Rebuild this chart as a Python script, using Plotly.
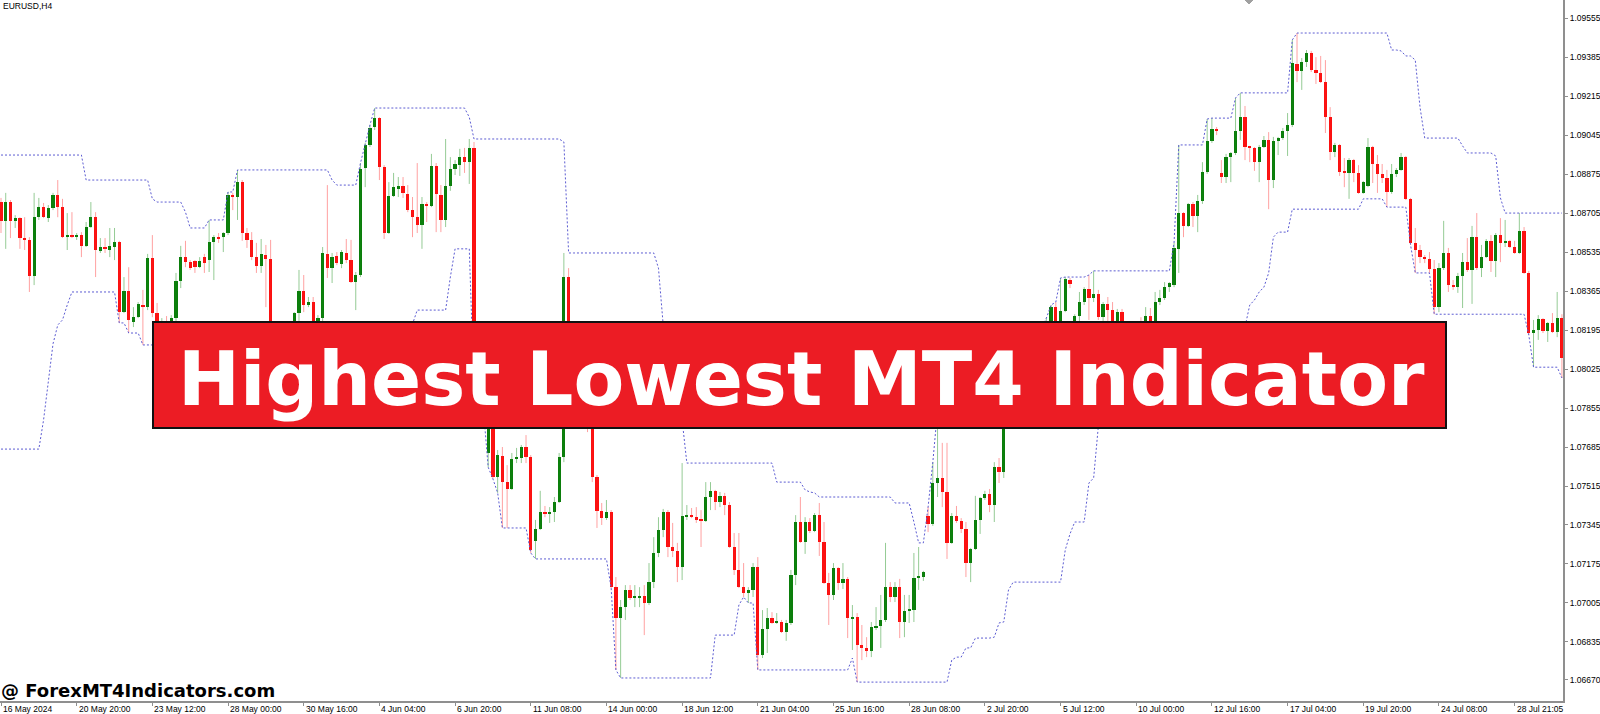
import plotly.graph_objects as go

# ---------------- data (EURUSD H4) ----------------
open_ = [
 1.08753, 1.08671, 1.08753, 1.08671, 1.08683, 1.08596, 1.08588, 1.08431, 1.08687, 1.08731,
 1.08683, 1.08727, 1.08784, 1.08731, 1.08600, 1.08609, 1.08600, 1.08609, 1.08562, 1.08644,
 1.08687, 1.08540, 1.08557, 1.08544, 1.08557, 1.08579, 1.08273, 1.08366, 1.08230, 1.08251,
 1.08304, 1.08295, 1.08509, 1.08269, 1.08204, 1.08230, 1.08213, 1.08247, 1.08409, 1.08513,
 1.08491, 1.08496, 1.08469, 1.08513, 1.08500, 1.08579, 1.08600, 1.08600, 1.08618, 1.08784,
 1.08775, 1.08840, 1.08618, 1.08588, 1.08513, 1.08474, 1.08522, 1.08505, 1.08130, 1.08021,
 1.08086, 1.08055, 1.08152, 1.08269, 1.08366, 1.08304, 1.08317, 1.08195, 1.08247, 1.08527,
 1.08465, 1.08518, 1.08483, 1.08531, 1.08500, 1.08404, 1.08435, 1.08901, 1.09002, 1.09080,
 1.09119, 1.08905, 1.08618, 1.08780, 1.08810, 1.08823, 1.08789, 1.08718, 1.08687, 1.08653,
 1.08745, 1.08736, 1.08910, 1.08784, 1.08675, 1.08823, 1.08897, 1.08914, 1.08949, 1.08927,
 1.08989, 1.08029, 1.07986, 1.07659, 1.07803, 1.07554, 1.07646, 1.07532, 1.07502, 1.07633,
 1.07637, 1.07685, 1.07641, 1.07276, 1.07328, 1.07401, 1.07393, 1.07401, 1.07445, 1.07641,
 1.08426, 1.08195, 1.08042, 1.08086, 1.07912, 1.07781, 1.07554, 1.07406, 1.07375, 1.07401,
 1.07074, 1.06939, 1.06987, 1.07062, 1.07027, 1.07027, 1.07036, 1.07005, 1.07096, 1.07223,
 1.07323, 1.07401, 1.07249, 1.07232, 1.07161, 1.07384, 1.07388, 1.07379, 1.07371, 1.07363,
 1.07467, 1.07494, 1.07445, 1.07472, 1.07432, 1.07249, 1.07149, 1.07074, 1.07049, 1.07062,
 1.07161, 1.06778, 1.06892, 1.06939, 1.06918, 1.06922, 1.06878, 1.06918, 1.07127, 1.07358,
 1.07271, 1.07358, 1.07319, 1.07388, 1.07271, 1.07092, 1.07040, 1.07157, 1.07092, 1.07110,
 1.06939, 1.06943, 1.06822, 1.06809, 1.06796, 1.06900, 1.06905, 1.06931, 1.07074, 1.07031,
 1.07074, 1.06922, 1.06970, 1.06974, 1.07114, 1.07118, 1.07384, 1.07350, 1.07528, 1.07550,
 1.07489, 1.07267, 1.07384, 1.07363, 1.07328, 1.07179, 1.07240, 1.07367, 1.07463, 1.07481,
 1.07432, 1.07597, 1.07576, 1.07803, 1.07912, 1.07868, 1.07977, 1.08042, 1.07986, 1.08108,
 1.08152, 1.08099, 1.08230, 1.08295, 1.08230, 1.08278, 1.08413, 1.08173, 1.08256, 1.08317,
 1.08374, 1.08335, 1.08353, 1.08251, 1.08309, 1.08282, 1.08195, 1.08273, 1.08152, 1.08099,
 1.08152, 1.08195, 1.08169, 1.08256, 1.08222, 1.08317, 1.08335, 1.08382, 1.08391, 1.08549,
 1.08705, 1.08649, 1.08745, 1.08692, 1.08758, 1.08884, 1.09020, 1.09072, 1.08880, 1.08862,
 1.08949, 1.08967, 1.09063, 1.09123, 1.08993, 1.08989, 1.08927, 1.08993, 1.09024, 1.08849,
 1.09020, 1.09032, 1.09063, 1.09089, 1.09355, 1.09325, 1.09363, 1.09403, 1.09329, 1.09316,
 1.09276, 1.09123, 1.08971, 1.09002, 1.08884, 1.08880, 1.08936, 1.08880, 1.08793, 1.08823,
 1.08993, 1.08919, 1.08876, 1.08858, 1.08797, 1.08876, 1.08893, 1.08949, 1.08767, 1.08575,
 1.08544, 1.08513, 1.08505, 1.08461, 1.08295, 1.08465, 1.08531, 1.08391, 1.08382, 1.08431,
 1.08491, 1.08457, 1.08600, 1.08465, 1.08513, 1.08584, 1.08496, 1.08609, 1.08575, 1.08584,
 1.08557, 1.08531, 1.08627, 1.08444, 1.08182, 1.08195, 1.08243, 1.08191, 1.08226, 1.08186,
 1.08247,
]

high = [
 1.08771, 1.08793, 1.08762, 1.08696, 1.08687, 1.08687, 1.08600, 1.08793, 1.08771, 1.08749,
 1.08740, 1.08793, 1.08849, 1.08767, 1.08705, 1.08709, 1.08618, 1.08622, 1.08666, 1.08753,
 1.08709, 1.08596, 1.08596, 1.08640, 1.08640, 1.08584, 1.08426, 1.08469, 1.08295, 1.08317,
 1.08370, 1.08527, 1.08609, 1.08313, 1.08247, 1.08256, 1.08260, 1.08444, 1.08562, 1.08584,
 1.08500, 1.08500, 1.08513, 1.08527, 1.08675, 1.08609, 1.08618, 1.08622, 1.08797, 1.08793,
 1.08893, 1.08849, 1.08640, 1.08622, 1.08575, 1.08592, 1.08566, 1.08588, 1.08152, 1.08117,
 1.08130, 1.08173, 1.08273, 1.08457, 1.08435, 1.08339, 1.08339, 1.08260, 1.08557, 1.08827,
 1.08531, 1.08535, 1.08544, 1.08592, 1.08588, 1.08448, 1.08923, 1.09011, 1.09089, 1.09163,
 1.09123, 1.08914, 1.08840, 1.08880, 1.08862, 1.08862, 1.08827, 1.08775, 1.08923, 1.08775,
 1.08753, 1.08963, 1.08923, 1.08827, 1.09028, 1.08949, 1.08936, 1.08985, 1.08989, 1.09028,
 1.09015, 1.08064, 1.08042, 1.07824, 1.07824, 1.07672, 1.07685, 1.07606, 1.07659, 1.07681,
 1.07694, 1.07737, 1.07650, 1.07367, 1.07494, 1.07428, 1.07423, 1.07467, 1.07659, 1.08531,
 1.08465, 1.08217, 1.08108, 1.08099, 1.07934, 1.07803, 1.07563, 1.07441, 1.07454, 1.07410,
 1.07118, 1.07018, 1.07083, 1.07083, 1.07083, 1.07074, 1.07083, 1.07179, 1.07292, 1.07379,
 1.07415, 1.07410, 1.07354, 1.07267, 1.07615, 1.07432, 1.07419, 1.07423, 1.07410, 1.07532,
 1.07532, 1.07498, 1.07489, 1.07485, 1.07445, 1.07310, 1.07310, 1.07179, 1.07074, 1.07179,
 1.07205, 1.06974, 1.06983, 1.06965, 1.06961, 1.06931, 1.06931, 1.07149, 1.07388, 1.07467,
 1.07379, 1.07375, 1.07397, 1.07441, 1.07358, 1.07136, 1.07179, 1.07161, 1.07179, 1.07118,
 1.06996, 1.06961, 1.06909, 1.06856, 1.06922, 1.06987, 1.07040, 1.07267, 1.07096, 1.07096,
 1.07110, 1.07040, 1.07040, 1.07223, 1.07249, 1.07145, 1.07423, 1.07619, 1.07846, 1.07703,
 1.07703, 1.07397, 1.07428, 1.07375, 1.07358, 1.07245, 1.07472, 1.07467, 1.07494, 1.07502,
 1.07619, 1.07637, 1.07846, 1.07955, 1.07955, 1.08012, 1.08086, 1.08073, 1.08130, 1.08186,
 1.08204, 1.08247, 1.08304, 1.08317, 1.08422, 1.08426, 1.08422, 1.08264, 1.08361, 1.08382,
 1.08435, 1.08453, 1.08370, 1.08317, 1.08339, 1.08317, 1.08287, 1.08287, 1.08195, 1.08186,
 1.08217, 1.08251, 1.08295, 1.08291, 1.08361, 1.08370, 1.08404, 1.08404, 1.08575, 1.09002,
 1.08709, 1.08749, 1.08753, 1.08784, 1.08927, 1.09115, 1.09119, 1.09080, 1.08936, 1.08963,
 1.08971, 1.09207, 1.09229, 1.09172, 1.08998, 1.08993, 1.09002, 1.09041, 1.09058, 1.09037,
 1.09037, 1.09076, 1.09141, 1.09460, 1.09490, 1.09381, 1.09416, 1.09412, 1.09385, 1.09390,
 1.09372, 1.09167, 1.09011, 1.09006, 1.08945, 1.08945, 1.08941, 1.08914, 1.08845, 1.09032,
 1.08998, 1.08958, 1.08919, 1.08893, 1.08919, 1.08901, 1.08967, 1.08954, 1.08771, 1.08640,
 1.08566, 1.08522, 1.08535, 1.08500, 1.08487, 1.08671, 1.08553, 1.08413, 1.08444, 1.08531,
 1.08596, 1.08649, 1.08705, 1.08566, 1.08592, 1.08609, 1.08618, 1.08683, 1.08675, 1.08588,
 1.08584, 1.08705, 1.08644, 1.08453, 1.08239, 1.08260, 1.08247, 1.08230, 1.08269, 1.08361,
 1.08264,
]

low = [
 1.08618, 1.08549, 1.08596, 1.08640, 1.08549, 1.08544, 1.08361, 1.08391, 1.08675, 1.08683,
 1.08666, 1.08718, 1.08687, 1.08596, 1.08544, 1.08596, 1.08588, 1.08513, 1.08557, 1.08640,
 1.08426, 1.08531, 1.08531, 1.08513, 1.08500, 1.08226, 1.08269, 1.08182, 1.08208, 1.08247,
 1.08130, 1.08282, 1.08251, 1.08173, 1.08152, 1.08182, 1.08195, 1.08226, 1.08378, 1.08469,
 1.08457, 1.08444, 1.08465, 1.08444, 1.08448, 1.08413, 1.08575, 1.08535, 1.08609, 1.08718,
 1.08675, 1.08584, 1.08553, 1.08500, 1.08444, 1.08444, 1.08295, 1.08086, 1.07977, 1.07955,
 1.08012, 1.08029, 1.08130, 1.08226, 1.08273, 1.08295, 1.08152, 1.08160, 1.08217, 1.08422,
 1.08400, 1.08478, 1.08465, 1.08487, 1.08400, 1.08282, 1.08426, 1.08818, 1.08993, 1.09067,
 1.08849, 1.08592, 1.08614, 1.08775, 1.08775, 1.08771, 1.08709, 1.08600, 1.08618, 1.08549,
 1.08666, 1.08731, 1.08622, 1.08622, 1.08644, 1.08802, 1.08871, 1.08867, 1.08880, 1.08832,
 1.07934, 1.07846, 1.07890, 1.07597, 1.07546, 1.07485, 1.07332, 1.07332, 1.07498, 1.07615,
 1.07615, 1.07615, 1.07223, 1.07197, 1.07323, 1.07379, 1.07354, 1.07358, 1.07441, 1.07619,
 1.08152, 1.08012, 1.07986, 1.07890, 1.07750, 1.07532, 1.07332, 1.07345, 1.07367, 1.07070,
 1.06713, 1.06678, 1.06931, 1.07018, 1.06987, 1.06987, 1.06865, 1.06996, 1.07070, 1.07205,
 1.07292, 1.07205, 1.07205, 1.07096, 1.07105, 1.07367, 1.07375, 1.07354, 1.07249, 1.07358,
 1.07410, 1.07410, 1.07423, 1.07388, 1.07245, 1.07127, 1.07070, 1.07031, 1.07005, 1.07031,
 1.06713, 1.06765, 1.06787, 1.06914, 1.06914, 1.06874, 1.06840, 1.06909, 1.07083, 1.07267,
 1.07219, 1.07310, 1.07314, 1.07210, 1.07088, 1.06909, 1.07018, 1.07062, 1.07066, 1.06852,
 1.06800, 1.06660, 1.06756, 1.06769, 1.06769, 1.06887, 1.06809, 1.06922, 1.07009, 1.07009,
 1.06852, 1.06856, 1.06918, 1.06922, 1.07062, 1.07101, 1.07314, 1.07341, 1.07467, 1.07423,
 1.07197, 1.07263, 1.07354, 1.07310, 1.07118, 1.07096, 1.07236, 1.07306, 1.07454, 1.07401,
 1.07358, 1.07528, 1.07550, 1.07777, 1.07824, 1.07837, 1.07934, 1.07942, 1.07968, 1.08073,
 1.08064, 1.08082, 1.08204, 1.08195, 1.08213, 1.08273, 1.08378, 1.08130, 1.08217, 1.08304,
 1.08239, 1.08317, 1.08239, 1.08213, 1.08204, 1.08152, 1.08160, 1.08117, 1.08055, 1.08064,
 1.08117, 1.08143, 1.08152, 1.08130, 1.08208, 1.08304, 1.08326, 1.08361, 1.08382, 1.08444,
 1.08600, 1.08644, 1.08644, 1.08622, 1.08745, 1.08876, 1.09011, 1.09045, 1.08836, 1.08836,
 1.08840, 1.08958, 1.09024, 1.08936, 1.08927, 1.08889, 1.08840, 1.08989, 1.08722, 1.08814,
 1.08958, 1.09024, 1.08954, 1.09080, 1.09276, 1.09242, 1.09342, 1.09320, 1.09268, 1.09272,
 1.09054, 1.08936, 1.08949, 1.08867, 1.08818, 1.08767, 1.08840, 1.08789, 1.08789, 1.08818,
 1.08836, 1.08793, 1.08836, 1.08731, 1.08789, 1.08862, 1.08889, 1.08762, 1.08566, 1.08444,
 1.08487, 1.08487, 1.08444, 1.08264, 1.08273, 1.08457, 1.08361, 1.08370, 1.08357, 1.08291,
 1.08448, 1.08309, 1.08457, 1.08426, 1.08509, 1.08448, 1.08426, 1.08491, 1.08557, 1.08553,
 1.08527, 1.08527, 1.08440, 1.08173, 1.08033, 1.08152, 1.08182, 1.08143, 1.08182, 1.08164,
 1.07986,
]

close = [
 1.08671, 1.08753, 1.08671, 1.08683, 1.08596, 1.08588, 1.08431, 1.08687, 1.08731, 1.08687,
 1.08727, 1.08784, 1.08731, 1.08600, 1.08609, 1.08600, 1.08609, 1.08562, 1.08644, 1.08687,
 1.08544, 1.08557, 1.08549, 1.08562, 1.08579, 1.08273, 1.08366, 1.08239, 1.08251, 1.08309,
 1.08295, 1.08509, 1.08269, 1.08204, 1.08230, 1.08213, 1.08247, 1.08409, 1.08513, 1.08491,
 1.08465, 1.08469, 1.08496, 1.08487, 1.08579, 1.08600, 1.08596, 1.08618, 1.08784, 1.08775,
 1.08840, 1.08618, 1.08588, 1.08513, 1.08474, 1.08527, 1.08505, 1.08130, 1.08021, 1.08086,
 1.08055, 1.08152, 1.08269, 1.08366, 1.08304, 1.08317, 1.08195, 1.08247, 1.08531, 1.08465,
 1.08513, 1.08487, 1.08535, 1.08500, 1.08404, 1.08435, 1.08897, 1.09002, 1.09076, 1.09119,
 1.08905, 1.08618, 1.08780, 1.08818, 1.08823, 1.08793, 1.08718, 1.08687, 1.08653, 1.08745,
 1.08736, 1.08910, 1.08789, 1.08675, 1.08823, 1.08897, 1.08919, 1.08949, 1.08927, 1.08989,
 1.08029, 1.07986, 1.08012, 1.07803, 1.07554, 1.07650, 1.07532, 1.07502, 1.07633, 1.07637,
 1.07685, 1.07641, 1.07236, 1.07328, 1.07401, 1.07393, 1.07401, 1.07445, 1.07641, 1.08426,
 1.08195, 1.08042, 1.08086, 1.07912, 1.07781, 1.07554, 1.07406, 1.07375, 1.07401, 1.07074,
 1.06939, 1.06987, 1.07062, 1.07027, 1.07031, 1.07036, 1.07005, 1.07096, 1.07223, 1.07323,
 1.07401, 1.07249, 1.07232, 1.07161, 1.07384, 1.07388, 1.07379, 1.07371, 1.07363, 1.07467,
 1.07494, 1.07445, 1.07472, 1.07432, 1.07249, 1.07149, 1.07074, 1.07049, 1.07062, 1.07161,
 1.06778, 1.06892, 1.06939, 1.06918, 1.06922, 1.06878, 1.06918, 1.07127, 1.07358, 1.07271,
 1.07358, 1.07319, 1.07388, 1.07271, 1.07092, 1.07040, 1.07157, 1.07092, 1.07110, 1.06939,
 1.06943, 1.06822, 1.06809, 1.06796, 1.06900, 1.06905, 1.06931, 1.07074, 1.07031, 1.07074,
 1.06922, 1.06970, 1.06974, 1.07114, 1.07118, 1.07140, 1.07350, 1.07528, 1.07550, 1.07489,
 1.07267, 1.07384, 1.07363, 1.07328, 1.07179, 1.07240, 1.07367, 1.07463, 1.07481, 1.07432,
 1.07597, 1.07576, 1.07803, 1.07912, 1.07868, 1.07977, 1.08042, 1.07986, 1.08108, 1.08152,
 1.08099, 1.08230, 1.08295, 1.08230, 1.08278, 1.08418, 1.08396, 1.08256, 1.08317, 1.08374,
 1.08335, 1.08353, 1.08251, 1.08309, 1.08282, 1.08195, 1.08273, 1.08152, 1.08099, 1.08152,
 1.08195, 1.08169, 1.08256, 1.08222, 1.08317, 1.08335, 1.08382, 1.08400, 1.08553, 1.08705,
 1.08649, 1.08745, 1.08692, 1.08758, 1.08884, 1.09020, 1.09072, 1.09067, 1.08862, 1.08949,
 1.08967, 1.09063, 1.09123, 1.08993, 1.08989, 1.08927, 1.08993, 1.09024, 1.08849, 1.09020,
 1.09032, 1.09063, 1.09089, 1.09359, 1.09325, 1.09363, 1.09403, 1.09329, 1.09316, 1.09276,
 1.09123, 1.08971, 1.09002, 1.08884, 1.08880, 1.08936, 1.08880, 1.08793, 1.08840, 1.08993,
 1.08919, 1.08876, 1.08858, 1.08797, 1.08876, 1.08893, 1.08949, 1.08767, 1.08575, 1.08544,
 1.08513, 1.08505, 1.08461, 1.08295, 1.08465, 1.08531, 1.08391, 1.08382, 1.08431, 1.08491,
 1.08457, 1.08600, 1.08465, 1.08513, 1.08584, 1.08496, 1.08609, 1.08575, 1.08584, 1.08557,
 1.08531, 1.08627, 1.08444, 1.08182, 1.08195, 1.08243, 1.08191, 1.08226, 1.08186, 1.08247,
 1.08073,
]

# highs / lows of the 19 bars before the visible window (seed the indicator)
pre_high = [1.08544, 1.08500, 1.08370, 1.08239, 1.08152, 1.08064, 1.07977, 1.07912, 1.07890, 1.08064,
            1.08239, 1.08326, 1.08413, 1.08457, 1.08588, 1.08762, 1.08871, 1.08958, 1.08806]
pre_low = [1.08326, 1.08239, 1.08108, 1.07977, 1.07890, 1.07846, 1.07803, 1.07759, 1.07676, 1.07803,
           1.07977, 1.08135, 1.08217, 1.08239, 1.08304, 1.08413, 1.08500, 1.08588, 1.08631]

period = 20

x_label_bars = [0, 16, 32, 48, 64, 80, 96, 112, 128, 144, 160, 176, 192, 208, 224, 240, 256, 272, 288, 304, 320]
x_label_text = ["16 May 2024", "20 May 20:00", "23 May 12:00", "28 May 00:00", "30 May 16:00", "4 Jun 04:00",
                "6 Jun 20:00", "11 Jun 08:00", "14 Jun 00:00", "18 Jun 12:00", "21 Jun 04:00", "25 Jun 16:00",
                "28 Jun 08:00", "2 Jul 20:00", "5 Jul 12:00", "10 Jul 00:00", "12 Jul 16:00", "17 Jul 04:00",
                "19 Jul 20:00", "24 Jul 08:00", "28 Jul 21:05"]

y_tick_vals = [1.09555, 1.09385, 1.09215, 1.09045, 1.08875, 1.08705, 1.08535, 1.08365, 1.08195,
               1.08025, 1.07855, 1.07685, 1.07515, 1.07345, 1.07175, 1.07005, 1.06835, 1.06670]

# ---------------- derived series ----------------
N = len(close)
xs = list(range(N))
off = len(pre_high)
all_high = pre_high + high
all_low = pre_low + low
highest = [max(all_high[i + off - period + 1:i + off + 1]) for i in range(N)]
lowest = [min(all_low[i + off - period + 1:i + off + 1]) for i in range(N)]

UP_BODY, DN_BODY = "#0b7d0b", "#fb1010"
UP_WICK, DN_WICK = "rgba(20,140,20,0.45)", "rgba(255,30,30,0.42)"
min_body = 0.000044

wx_up, wy_up, wx_dn, wy_dn = [], [], [], []
b_base, b_h, b_col = [], [], []
for i in range(N):
    o, h, l, c = open_[i], high[i], low[i], close[i]
    up = c >= o
    if up:
        wx_up += [i, i, None]; wy_up += [l, h, None]
    else:
        wx_dn += [i, i, None]; wy_dn += [l, h, None]
    lo_b, hi_b = min(o, c), max(o, c)
    hgt = max(hi_b - lo_b, min_body)
    b_base.append(lo_b)
    b_h.append(hgt)
    b_col.append(UP_BODY if up else DN_BODY)

fig = go.Figure()
fig.add_trace(go.Scatter(x=wx_up, y=wy_up, mode="lines", line=dict(color=UP_WICK, width=1), hoverinfo="skip"))
fig.add_trace(go.Scatter(x=wx_dn, y=wy_dn, mode="lines", line=dict(color=DN_WICK, width=1), hoverinfo="skip"))
fig.add_trace(go.Bar(x=xs, y=b_h, base=b_base, width=0.68, marker=dict(color=b_col, line=dict(width=0)), hoverinfo="skip"))
fig.add_trace(go.Scatter(x=xs, y=highest, mode="lines", line=dict(color="#5c5cd2", width=1, dash="2px,2px"), hoverinfo="skip"))
fig.add_trace(go.Scatter(x=xs, y=lowest, mode="lines", line=dict(color="#5c5cd2", width=1, dash="2px,2px"), hoverinfo="skip"))

AX = "#8f8f8f"
fig.update_layout(
    width=1600, height=714,
    margin=dict(l=0, r=37, t=0, b=13, pad=0),
    paper_bgcolor="white", plot_bgcolor="white",
    showlegend=False, bargap=0,
    xaxis=dict(range=[-0.211, 330.23], showgrid=False, zeroline=False, showline=True,
               linecolor=AX, linewidth=2, ticks="outside", ticklen=3, tickcolor=AX, tickwidth=1,
               tickvals=x_label_bars, showticklabels=False, fixedrange=True),
    yaxis=dict(range=[1.065776, 1.09634], side="right", showgrid=False, zeroline=False, showline=True,
               linecolor=AX, linewidth=2, ticks="outside", ticklen=3, tickcolor=AX, tickwidth=1,
               tickvals=y_tick_vals, ticktext=[f"{v:.5f}" for v in y_tick_vals],
               tickfont=dict(family="Liberation Sans", size=8.5, color="black"), fixedrange=True),
)

ann = []
for b, t in zip(x_label_bars, x_label_text):
    ann.append(dict(x=b, xref="x", y=0, yref="paper", yanchor="top", xanchor="left", text=t,
                    showarrow=False, xshift=0, yshift=-1,
                    font=dict(family="Liberation Sans", size=8.5, color="black")))
ann.append(dict(x=0, xref="paper", y=1, yref="paper", xanchor="left", yanchor="top", text="EURUSD,H4",
                showarrow=False, xshift=1, yshift=1, font=dict(family="Liberation Sans", size=8.5, color="black")))
ann.append(dict(x=0.5125, xref="paper", y=0.4593, yref="paper", xanchor="center", yanchor="middle",
                text="<b>Highest Lowest MT4 Indicator</b>", showarrow=False,
                font=dict(family="DejaVu Sans", size=74, color="white")))
ann.append(dict(x=0, xref="paper", y=0.0143, yref="paper", xanchor="left", yanchor="middle",
                text="<b>@ ForexMT4Indicators.com</b>", showarrow=False, xshift=-1,
                font=dict(family="DejaVu Sans", size=18, color="black")))
fig.update_layout(annotations=ann)

fig.add_shape(type="rect", xref="paper", yref="paper", x0=0.09789, x1=0.92514, y0=0.38944, y1=0.54066,
              fillcolor="#ec1c24", line=dict(color="#111111", width=2), layer="above")
fig.add_shape(type="path", xref="paper", yref="paper",
              path="M 0.79655 1 L 0.80166 1 L 0.7991 0.99429 Z",
              fillcolor="#a0a0a0", line=dict(color="#a0a0a0", width=1), layer="above")

fig.write_html("out.html", config={"displayModeBar": False},
               post_script="document.body.style.margin='0px';document.body.style.overflow='hidden';")
